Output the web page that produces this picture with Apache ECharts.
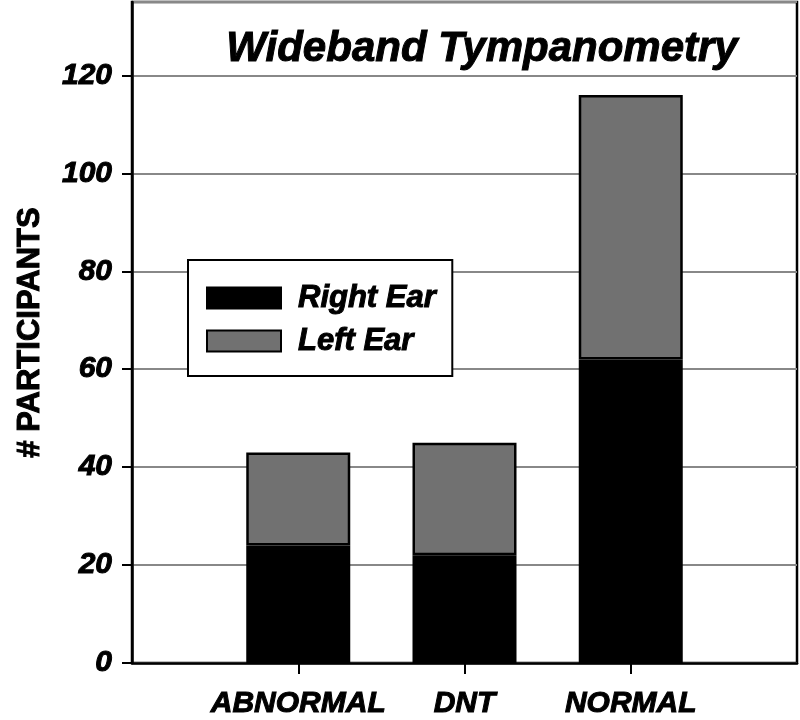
<!DOCTYPE html>
<html>
<head>
<meta charset="utf-8">
<script src="https://cdn.jsdelivr.net/npm/echarts@6/dist/echarts.min.js"></script>
<style>html,body{margin:0;padding:0;background:#fff}#c{width:800px;height:720px}</style>
</head>
<body>
<div id="c"></div>
<script>
const titleText = 'Wideband Tympanometry';
const categories = ['ABNORMAL', 'DNT', 'NORMAL'];
const rightEar = [24, 22, 62];
const leftEar = [19, 23, 54];
const yTicks = [0, 20, 40, 60, 80, 100, 120];
const yName = '# PARTICIPANTS';

const font = 'Liberation Sans, Arial, sans-serif';
const heavy = {textBorderColor: '#000', textBorderWidth: 1};
const axisCats = [''].concat(categories, ['']);
const pad = arr => ['-'].concat(arr, ['-']);

const chart = echarts.init(document.getElementById('c'));
chart.setOption({
  animation: false,
  backgroundColor: '#fff',
  title: {
    text: titleText, left: 477, top: 23, textAlign: 'center',
    textStyle: Object.assign({fontFamily: font, fontSize: 42, fontWeight: 'bold', fontStyle: 'italic', color: '#000'}, heavy)
  },
  legend: {
    left: 188, top: 260, orient: 'vertical', icon: 'rect',
    itemWidth: 74, itemHeight: 21, itemGap: 11,
    padding: [22, 16, 19, 18],
    backgroundColor: '#fff', borderColor: '#000', borderWidth: 2,
    textStyle: Object.assign({fontFamily: font, fontSize: 31, fontWeight: 'bold', fontStyle: 'italic', color: '#000', padding: [0, 0, 0, 12]}, heavy),
    data: ['Right Ear', 'Left Ear']
  },
  grid: {left: 132, right: 3, top: 2, bottom: 57, show: true, borderColor: '#000', borderWidth: 2.5, backgroundColor: 'transparent'},
  xAxis: {
    type: 'category', data: axisCats, boundaryGap: false,
    axisLine: {lineStyle: {color: '#000', width: 2.5}},
    axisTick: {show: true, length: 11, interval: (i, v) => v !== '', lineStyle: {color: '#000', width: 2}},
    axisLabel: Object.assign({interval: 0, margin: 26, fontFamily: font, fontSize: 30, fontWeight: 'bold', fontStyle: 'italic', color: '#000'}, heavy),
    splitLine: {show: false}
  },
  yAxis: {
    type: 'value', min: 0, max: 135, interval: 20,
    name: yName, nameLocation: 'middle', nameGap: 86, nameRotate: 90,
    nameTextStyle: Object.assign({fontFamily: font, fontSize: 31, fontWeight: 'bold', color: '#000'}, heavy),
    axisLine: {show: true, lineStyle: {color: '#000', width: 2.5}},
    axisTick: {show: true, length: 10, lineStyle: {color: '#000', width: 2}},
    axisLabel: Object.assign({margin: 20, showMaxLabel: false, fontFamily: font, fontSize: 30, fontWeight: 'bold', fontStyle: 'italic', color: '#000',
      formatter: v => yTicks.indexOf(v) >= 0 ? String(v) : ''}, heavy),
    splitLine: {show: true, lineStyle: {color: '#888', width: 2}}
  },
  series: [
    {name: 'Right Ear', type: 'bar', stack: 'ears', barWidth: 104, data: pad(rightEar),
      itemStyle: {color: '#000', borderColor: '#000', borderWidth: 2.5}},
    {name: 'Left Ear', type: 'bar', stack: 'ears', barWidth: 104, data: pad(leftEar),
      itemStyle: {color: '#717171', borderColor: '#000', borderWidth: 2.5}}
  ]
});
</script>
</body>
</html>
